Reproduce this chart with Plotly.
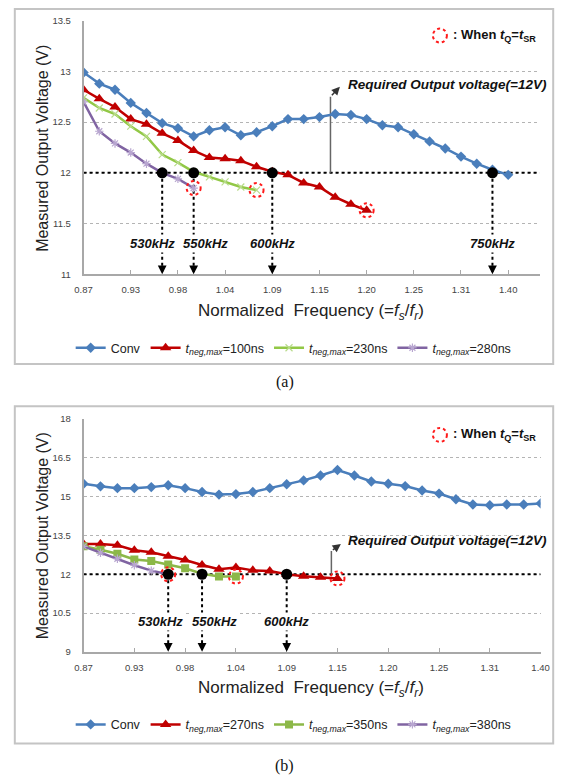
import plotly.graph_objects as go

W, H = 568, 784
def X(px): return px / W
def Y(py): return 1 - py / H

# ---------------- data ----------------
x_tick_labels = ["0.87", "0.93", "0.98", "1.04", "1.09", "1.15", "1.20", "1.25", "1.31", "1.40"]
x_tick_idx = [0, 3, 6, 9, 12, 15, 18, 21, 24, 27]

# panel (a)
a_conv = [12.99, 12.88, 12.82, 12.69, 12.59, 12.49, 12.44, 12.36, 12.42, 12.45, 12.37, 12.40, 12.46, 12.53,
          12.53, 12.55, 12.58, 12.57, 12.53, 12.47, 12.45, 12.38, 12.31, 12.24, 12.16, 12.09, 12.03, 11.98]
a_100 = [12.82, 12.73, 12.65, 12.53, 12.48, 12.39, 12.32, 12.22, 12.15, 12.14, 12.12, 12.06, 12.01, 11.98,
         11.90, 11.86, 11.76, 11.69, 11.63]
a_230 = [12.74, 12.64, 12.58, 12.46, 12.36, 12.18, 12.10, 12.01, 11.96, 11.91, 11.86, 11.83]
a_280 = [12.70, 12.41, 12.29, 12.20, 12.09, 12.00, 11.94, 11.85]
a_cross_idx = [5, 7, 12, 26]
a_cross_lbl = ["530kHz", "550kHz", "600kHz", "750kHz"]
a_lbl_shift = [-10, 12, 0, 0]

# panel (b)
b_conv = [15.50, 15.40, 15.33, 15.33, 15.37, 15.44, 15.33, 15.18, 15.08, 15.10, 15.18, 15.33, 15.48, 15.63,
          15.82, 16.03, 15.82, 15.59, 15.50, 15.41, 15.24, 15.12, 14.90, 14.70, 14.67, 14.70, 14.70, 14.74]
b_270 = [13.17, 13.17, 13.12, 12.93, 12.85, 12.70, 12.55, 12.36, 12.19, 12.26, 12.15, 12.13, 12.00, 11.92,
         11.88, 11.84]
b_350 = [13.08, 12.95, 12.79, 12.57, 12.51, 12.38, 12.23, 12.02, 11.91, 11.91]
b_380 = [13.08, 12.83, 12.60, 12.35, 12.14, 12.00]
b_cross_idx = [5, 7, 12]
b_cross_lbl = ["530kHz", "550kHz", "600kHz"]
b_lbl_shift = [-8, 12, 0]

V_REQ = 12.0

FONT = "Liberation Sans"
BLUE = "#4A7EBB"
RED = "#C00000"
GREEN_A = "#92C846"
GREEN_B = "#8CB848"
PURPLE = "#8064A2"

def leg(ns):
    return "<i>t</i><sub><i>neg,max</i></sub>=%dns" % ns

fig = go.Figure()

def add_series(xa, ya, lg, series):
    for name, vals, color, sym, msize, mcolor, mline in series:
        fig.add_trace(go.Scatter(
            x=list(range(len(vals))), y=vals, name=name, mode="lines+markers",
            xaxis=xa, yaxis=ya, legend=lg,
            line=dict(color=color, width=2.5),
            marker=dict(symbol=sym, size=msize, color=mcolor,
                        line=dict(color=mcolor, width=mline)),
        ))

add_series("x", "y", "legend", [
    ("Conv", a_conv, BLUE, "diamond", 8, BLUE, 0),
    (leg(100), a_100, RED, "triangle-up", 10, RED, 0),
    (leg(230), a_230, GREEN_A, "x-thin-open", 7, "#B9DC8C", 1.2),
    (leg(280), a_280, PURPLE, "asterisk-open", 7, "#B8A6D0", 1.2),
])
add_series("x2", "y2", "legend2", [
    ("Conv", b_conv, BLUE, "diamond", 8, BLUE, 0),
    (leg(270), b_270, RED, "triangle-up", 10, RED, 0),
    (leg(350), b_350, GREEN_B, "square", 8, GREEN_B, 0),
    (leg(380), b_380, PURPLE, "asterisk-open", 7, "#B8A6D0", 1.2),
])

# crossing dots
for xa, ya, cx in (("x", "y", a_cross_idx), ("x2", "y2", b_cross_idx)):
    fig.add_trace(go.Scatter(x=cx, y=[V_REQ] * len(cx), mode="markers", xaxis=xa, yaxis=ya,
                             marker=dict(color="black", size=11), showlegend=False, hoverinfo="skip"))

shapes = []
annotations = []

def pnote(px, py, text, size, family=FONT, xanchor="center", angle=0, color="#111"):
    annotations.append(dict(xref="paper", yref="paper", x=X(px), y=Y(py), xanchor=xanchor,
                            yanchor="middle", textangle=angle, showarrow=False, text=text,
                            font=dict(family=family, size=size, color=color)))

# panel borders
for y0, y1 in ((3, 363), (406, 748)):
    shapes.append(dict(type="rect", xref="paper", yref="paper", x0=X(6), x1=X(562), y0=Y(y1), y1=Y(y0),
                       line=dict(color="#c4c4c4", width=2), layer="below"))

def panel_extras(xr, yr, xmax, ymin, cross_idx, cross_lbl, shifts, lbl_y, ends, req):
    # 12V line
    shapes.append(dict(type="line", xref=xr, yref=yr, x0=0, x1=xmax, y0=V_REQ, y1=V_REQ,
                       line=dict(color="black", width=2, dash="dot"), layer="between"))
    for cx, lb, sh in zip(cross_idx, cross_lbl, shifts):
        shapes.append(dict(type="line", xref=xr, yref=yr, x0=cx, x1=cx, y0=V_REQ, y1=ymin,
                           line=dict(color="black", width=2, dash="dot"), layer="between"))
        annotations.append(dict(xref=xr, yref=yr, x=cx, y=ymin, ax=0, ay=-9, text="",
                                showarrow=True, arrowhead=2, arrowsize=1.1, arrowwidth=1.6,
                                arrowcolor="black"))
        annotations.append(dict(xref=xr, yref=yr, x=cx, y=lbl_y, xshift=sh, showarrow=False,
                                xanchor="center", yanchor="middle",
                                text="<b><i>%s</i></b>" % lb, bgcolor="white",
                                font=dict(family=FONT, size=13, color="#111")))
    for ex, ey in ends:
        shapes.append(dict(type="circle", xref=xr, yref=yr, xsizemode="pixel", ysizemode="pixel",
                           xanchor=ex, yanchor=ey, x0=-7, x1=7, y0=-7, y1=7,
                           line=dict(color="#FF1A1A", width=2, dash="dot"), layer="above"))
    (vx, vy_top, tx, ty, txt_px, txt_py) = req
    shapes.append(dict(type="line", xref=xr, yref=yr, x0=vx, x1=vx, y0=V_REQ, y1=vy_top,
                       line=dict(color="#666", width=1.5), layer="between"))
    annotations.append(dict(xref=xr, yref=yr, x=tx, y=ty, ax=vx, ay=vy_top, axref=xr, ayref=yr,
                            text="", showarrow=True, arrowhead=2, arrowsize=1.1, arrowwidth=1.5,
                            arrowcolor="#333"))
    pnote(txt_px, txt_py, "<b><i>Required Output voltage(=12V)</i></b>", 13.5, xanchor="left")

panel_extras("x", "y", 29, 11, a_cross_idx, a_cross_lbl, a_lbl_shift, 11.30,
             [(len(a_280) - 1, a_280[-1]), (len(a_230) - 1, a_230[-1]), (len(a_100) - 1, a_100[-1])],
             (15.70, 12.75, 16.30, 12.85, 348, 80))
panel_extras("x2", "y2", 27, 9, b_cross_idx, b_cross_lbl, b_lbl_shift, 10.16,
             [(len(b_380) - 1, b_380[-1]), (len(b_350) - 1, b_350[-1]), (len(b_270) - 1, b_270[-1])],
             (14.64, 12.90, 15.20, 13.17, 348, 542))

# "When tQ = tSR" keys
for cy in (30, 435):
    shapes.append(dict(type="circle", xref="paper", yref="paper", xsizemode="pixel", ysizemode="pixel",
                       xanchor=X(445), yanchor=Y(cy), x0=-7, x1=7, y0=-7, y1=7,
                       line=dict(color="#FF1A1A", width=2, dash="dot")))
    pnote(456, cy, "<b>: When <i>t</i><sub>Q</sub>=<i>t</i><sub>SR</sub></b>", 13, xanchor="left")

# axis titles and panel captions
for ycen, xt_y, cap, cap_y in ((144, 310, "(a)", 381), (537, 693, "(b)", 771)):
    pnote(35, ycen, "Measured Output Voltage (V)", 16, angle=-90, color="#222")
    pnote(312, xt_y, "Normalized  Frequency (=<i>f<sub>s</sub></i>/<i>f<sub>r</sub></i>)", 17, color="#222")
    pnote(285, cap_y, cap, 16, family="Liberation Serif")

def xax(dom, rng, anchor):
    return dict(domain=dom, range=rng, tickvals=x_tick_idx, ticktext=x_tick_labels, showgrid=False,
                zeroline=False, showline=True, linecolor="#a8a8a8", linewidth=1.5, ticks="inside",
                ticklen=4, tickcolor="#a8a8a8", tickfont=dict(family=FONT, size=9.5, color="#444"),
                ticklabelstandoff=6, anchor=anchor, fixedrange=True)

def yax(dom, rng, dt, anchor):
    return dict(domain=dom, range=rng, dtick=dt, tick0=rng[0], showgrid=True, griddash="dot",
                gridcolor="#b4b4b4", gridwidth=1, zeroline=False, showline=True, linecolor="#a8a8a8",
                linewidth=1.5, ticks="", tickfont=dict(family=FONT, size=9.5, color="#444"),
                ticklabelstandoff=9, anchor=anchor, fixedrange=True)

legend_common = dict(orientation="h", xanchor="center", yanchor="middle", bgcolor="rgba(0,0,0,0)",
                     font=dict(family=FONT, size=12.5, color="#222"), itemwidth=30, tracegroupgap=0)

fig.update_layout(
    width=W, height=H, margin=dict(l=0, r=0, t=0, b=0),
    paper_bgcolor="white", plot_bgcolor="white",
    font=dict(family=FONT),
    xaxis=xax([X(77), X(548)], [0, 29], "y"),
    yaxis=yax([Y(272), Y(15)], [11, 13.5], 0.5, "x"),
    xaxis2=xax([X(77), X(549)], [0, 27], "y2"),
    yaxis2=yax([Y(655), Y(419)], [9, 18], 1.5, "x2"),
    legend=dict(x=X(294), y=Y(347), **legend_common),
    legend2=dict(x=X(294), y=Y(729), **legend_common),
    shapes=shapes, annotations=annotations,
    hovermode=False,
)

fig.write_html("out.html")
